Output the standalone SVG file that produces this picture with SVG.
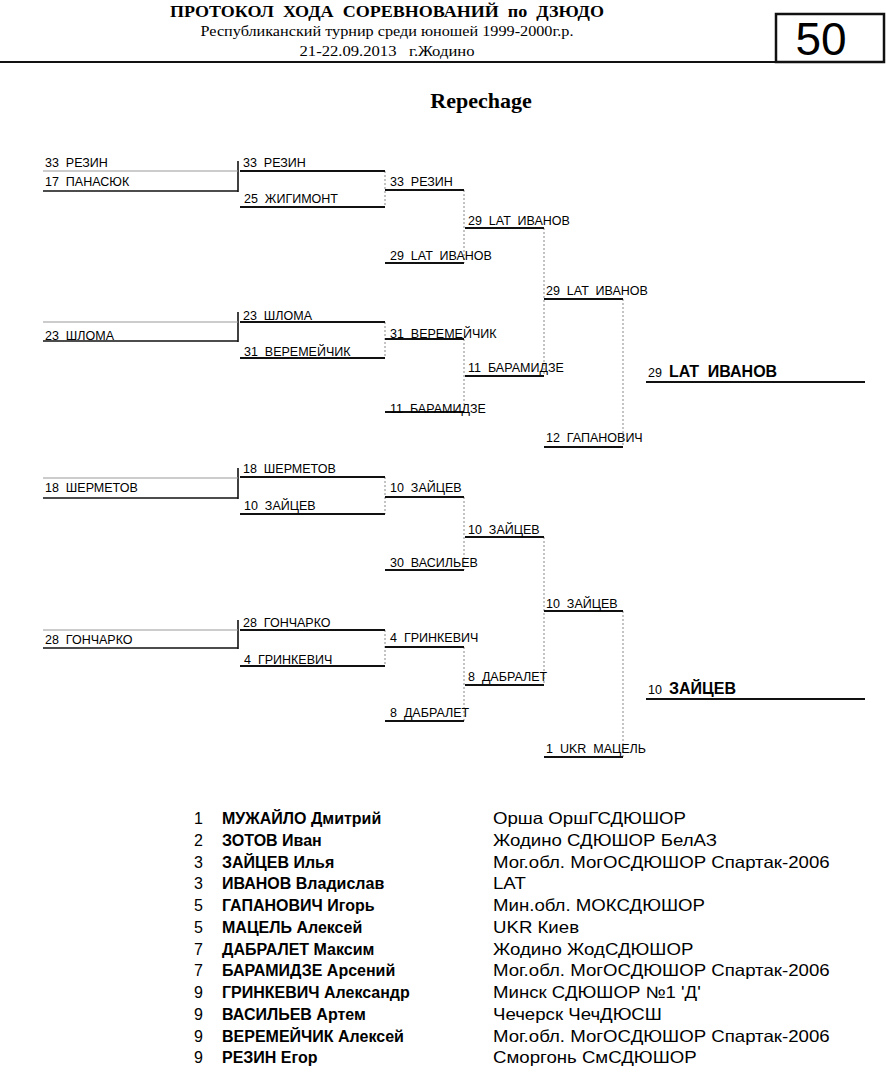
<svg xmlns="http://www.w3.org/2000/svg" width="886" height="1074" viewBox="0 0 886 1074">
<style>
.t{font-family:"Liberation Sans",Arial,sans-serif;font-size:12.5px;fill:#000;white-space:pre}
.tb{font-family:"Liberation Sans",Arial,sans-serif;font-size:16px;font-weight:bold;fill:#000;white-space:pre}
.hd{font-family:"Liberation Serif","Times New Roman",serif;fill:#000;white-space:pre}
.ls{font-family:"Liberation Sans",Arial,sans-serif;font-size:16.5px;fill:#000;white-space:pre}
.ln{font-family:"Liberation Sans",Arial,sans-serif;font-size:16px;fill:#000}
.lb{font-family:"Liberation Sans",Arial,sans-serif;font-size:16px;font-weight:bold;fill:#000;white-space:pre}
.hl{stroke:#111;stroke-width:2;fill:none}
.gr{stroke:#999;stroke-width:1.2;fill:none}
.bk{stroke:#111;stroke-width:1.6;fill:none}
.dt{stroke:#888;stroke-width:1;stroke-dasharray:2 2;fill:none}
</style>
<g id="header">
<text class="hd" x="387" y="17" text-anchor="middle" font-size="17" font-weight="bold" textLength="434" lengthAdjust="spacingAndGlyphs">ПРОТОКОЛ  ХОДА  СОРЕВНОВАНИЙ  по  ДЗЮДО</text>
<text class="hd" x="387" y="36" text-anchor="middle" font-size="15" textLength="373" lengthAdjust="spacingAndGlyphs">Республиканский турнир среди юношей 1999-2000г.р.</text>
<text class="hd" x="387" y="56" text-anchor="middle" font-size="15" textLength="175" lengthAdjust="spacingAndGlyphs">21-22.09.2013   г.Жодино</text>
<line x1="0" y1="62" x2="777" y2="62" stroke="#111" stroke-width="2"/>
<rect x="776" y="14" width="108" height="48" fill="none" stroke="#111" stroke-width="2.5"/>
<text x="821" y="55" text-anchor="middle" font-family="Liberation Sans,Arial,sans-serif" font-size="46">50</text>
<text class="hd" x="481" y="108" text-anchor="middle" font-size="22" font-weight="bold">Repechage</text>
</g>
<g id="connectors">
<line class="bk" x1="238" y1="161" x2="238" y2="192"/>
<line class="bk" x1="238" y1="312" x2="238" y2="342"/>
<line class="bk" x1="238" y1="468" x2="238" y2="499"/>
<line class="bk" x1="238" y1="620" x2="238" y2="649"/>
<line class="dt" x1="385" y1="171" x2="385" y2="207"/>
<line class="dt" x1="464" y1="190" x2="464" y2="263"/>
<line class="dt" x1="385" y1="322" x2="385" y2="358"/>
<line class="dt" x1="464" y1="339" x2="464" y2="412"/>
<line class="dt" x1="544" y1="228" x2="544" y2="376"/>
<line class="dt" x1="623" y1="299" x2="623" y2="447"/>
<line class="dt" x1="385" y1="477" x2="385" y2="514"/>
<line class="dt" x1="464" y1="497" x2="464" y2="570"/>
<line class="dt" x1="385" y1="630" x2="385" y2="666"/>
<line class="dt" x1="464" y1="647" x2="464" y2="721"/>
<line class="dt" x1="544" y1="537" x2="544" y2="685"/>
<line class="dt" x1="623" y1="611" x2="623" y2="757"/>
</g>
<g id="b1r1a"><line class="gr" x1="43" y1="171" x2="238" y2="171"/><text class="t" x="45" y="167">33  РЕЗИН</text></g>
<g id="b1r1b"><line class="bk" x1="43" y1="191" x2="238" y2="191"/><text class="t" x="45" y="186">17  ПАНАСЮК</text></g>
<g id="b1r2a"><line class="hl" x1="240" y1="171" x2="385" y2="171"/><text class="t" x="243" y="167">33  РЕЗИН</text></g>
<g id="b1r2b"><line class="hl" x1="240" y1="207" x2="385" y2="207"/><text class="t" x="244" y="203">25  ЖИГИМОНТ</text></g>
<g id="b1r3a"><line class="hl" x1="385" y1="190" x2="464" y2="190"/><text class="t" x="390" y="186">33  РЕЗИН</text></g>
<g id="b1r3b"><line class="hl" x1="385" y1="263" x2="464" y2="263"/><text class="t" x="390" y="260">29  LAT  ИВАНОВ</text></g>
<g id="b1r4a"><line class="hl" x1="465" y1="228" x2="544" y2="228"/><text class="t" x="468" y="225">29  LAT  ИВАНОВ</text></g>
<g id="b1r5a"><line class="hl" x1="544" y1="299" x2="623" y2="299"/><text class="t" x="546" y="295">29  LAT  ИВАНОВ</text></g>
<g id="b2r1a"><line class="gr" x1="43" y1="322" x2="238" y2="322"/></g>
<g id="b2r1b"><line class="bk" x1="43" y1="341" x2="238" y2="341"/><text class="t" x="45" y="340">23  ШЛОМА</text></g>
<g id="b2r2a"><line class="hl" x1="240" y1="322" x2="385" y2="322"/><text class="t" x="243" y="320">23  ШЛОМА</text></g>
<g id="b2r2b"><line class="hl" x1="240" y1="358" x2="385" y2="358"/><text class="t" x="244" y="356">31  ВЕРЕМЕЙЧИК</text></g>
<g id="b2r3a"><line class="hl" x1="385" y1="339" x2="464" y2="339"/><text class="t" x="390" y="338">31  ВЕРЕМЕЙЧИК</text></g>
<g id="b2r3b"><line class="hl" x1="385" y1="412" x2="464" y2="412"/><text class="t" x="390" y="413">11  БАРАМИДЗЕ</text></g>
<g id="b2r4b"><line class="hl" x1="465" y1="376" x2="544" y2="376"/><text class="t" x="468" y="372">11  БАРАМИДЗЕ</text></g>
<g id="b2r5b"><line class="hl" x1="544" y1="447" x2="623" y2="447"/><text class="t" x="546" y="442">12  ГАПАНОВИЧ</text></g>
<g id="final1"><line class="hl" x1="646" y1="382" x2="865" y2="382"/><text class="t" x="648" y="377">29 </text><text class="tb" x="669" y="377">LAT  ИВАНОВ</text></g>
<g id="b3r1a"><line class="gr" x1="43" y1="478" x2="238" y2="478"/></g>
<g id="b3r1b"><line class="bk" x1="43" y1="498" x2="238" y2="498"/><text class="t" x="45" y="492">18  ШЕРМЕТОВ</text></g>
<g id="b3r2a"><line class="hl" x1="240" y1="477" x2="385" y2="477"/><text class="t" x="243" y="473">18  ШЕРМЕТОВ</text></g>
<g id="b3r2b"><line class="hl" x1="240" y1="514" x2="385" y2="514"/><text class="t" x="244" y="510">10  ЗАЙЦЕВ</text></g>
<g id="b3r3a"><line class="hl" x1="385" y1="497" x2="464" y2="497"/><text class="t" x="390" y="492">10  ЗАЙЦЕВ</text></g>
<g id="b3r3b"><line class="hl" x1="385" y1="570" x2="464" y2="570"/><text class="t" x="390" y="567">30  ВАСИЛЬЕВ</text></g>
<g id="b3r4a"><line class="hl" x1="465" y1="537" x2="544" y2="537"/><text class="t" x="468" y="534">10  ЗАЙЦЕВ</text></g>
<g id="b3r5a"><line class="hl" x1="544" y1="611" x2="623" y2="611"/><text class="t" x="546" y="608">10  ЗАЙЦЕВ</text></g>
<g id="b4r1a"><line class="gr" x1="43" y1="630" x2="238" y2="630"/></g>
<g id="b4r1b"><line class="bk" x1="43" y1="648" x2="238" y2="648"/><text class="t" x="45" y="644">28  ГОНЧАРКО</text></g>
<g id="b4r2a"><line class="hl" x1="240" y1="630" x2="385" y2="630"/><text class="t" x="243" y="627">28  ГОНЧАРКО</text></g>
<g id="b4r2b"><line class="hl" x1="240" y1="666" x2="385" y2="666"/><text class="t" x="244" y="664">4  ГРИНКЕВИЧ</text></g>
<g id="b4r3a"><line class="hl" x1="385" y1="647" x2="464" y2="647"/><text class="t" x="390" y="642">4  ГРИНКЕВИЧ</text></g>
<g id="b4r3b"><line class="hl" x1="385" y1="721" x2="464" y2="721"/><text class="t" x="390" y="717">8  ДАБРАЛЕТ</text></g>
<g id="b4r4b"><line class="hl" x1="465" y1="685" x2="544" y2="685"/><text class="t" x="468" y="681">8  ДАБРАЛЕТ</text></g>
<g id="b4r5b"><line class="hl" x1="544" y1="757" x2="623" y2="757"/><text class="t" x="546" y="753">1  UKR  МАЦЕЛЬ</text></g>
<g id="final2"><line class="hl" x1="646" y1="699" x2="865" y2="699"/><text class="t" x="648" y="694">10 </text><text class="tb" x="669" y="694">ЗАЙЦЕВ</text></g>
<g id="results">
<text class="ln" x="194" y="824">1</text><text class="lb" x="222" y="824">МУЖАЙЛО Дмитрий</text>
<text class="ln" x="194" y="846">2</text><text class="lb" x="222" y="846">ЗОТОВ Иван</text>
<text class="ln" x="194" y="868">3</text><text class="lb" x="222" y="868">ЗАЙЦЕВ Илья</text>
<text class="ln" x="194" y="889">3</text><text class="lb" x="222" y="889">ИВАНОВ Владислав</text>
<text class="ln" x="194" y="911">5</text><text class="lb" x="222" y="911">ГАПАНОВИЧ Игорь</text>
<text class="ln" x="194" y="933">5</text><text class="lb" x="222" y="933">МАЦЕЛЬ Алексей</text>
<text class="ln" x="194" y="955">7</text><text class="lb" x="222" y="955">ДАБРАЛЕТ Максим</text>
<text class="ln" x="194" y="976">7</text><text class="lb" x="222" y="976">БАРАМИДЗЕ Арсений</text>
<text class="ln" x="194" y="998">9</text><text class="lb" x="222" y="998">ГРИНКЕВИЧ Александр</text>
<text class="ln" x="194" y="1020">9</text><text class="lb" x="222" y="1020">ВАСИЛЬЕВ Артем</text>
<text class="ln" x="194" y="1042">9</text><text class="lb" x="222" y="1042">ВЕРЕМЕЙЧИК Алексей</text>
<text class="ln" x="194" y="1063">9</text><text class="lb" x="222" y="1063">РЕЗИН Егор</text>
<g transform="translate(493 0) scale(1.13 1)">
<text class="ls" x="0" y="824">Орша ОршГСДЮШОР</text>
<text class="ls" x="0" y="846">Жодино СДЮШОР БелАЗ</text>
<text class="ls" x="0" y="868">Мог.обл. МогОСДЮШОР Спартак-2006</text>
<text class="ls" x="0" y="889">LAT</text>
<text class="ls" x="0" y="911">Мин.обл. МОКСДЮШОР</text>
<text class="ls" x="0" y="933">UKR Киев</text>
<text class="ls" x="0" y="955">Жодино ЖодСДЮШОР</text>
<text class="ls" x="0" y="976">Мог.обл. МогОСДЮШОР Спартак-2006</text>
<text class="ls" x="0" y="998">Минск СДЮШОР №1 'Д'</text>
<text class="ls" x="0" y="1020">Чечерск ЧечДЮСШ</text>
<text class="ls" x="0" y="1042">Мог.обл. МогОСДЮШОР Спартак-2006</text>
<text class="ls" x="0" y="1063">Сморгонь СмСДЮШОР</text>
</g>
</g>
</svg>
